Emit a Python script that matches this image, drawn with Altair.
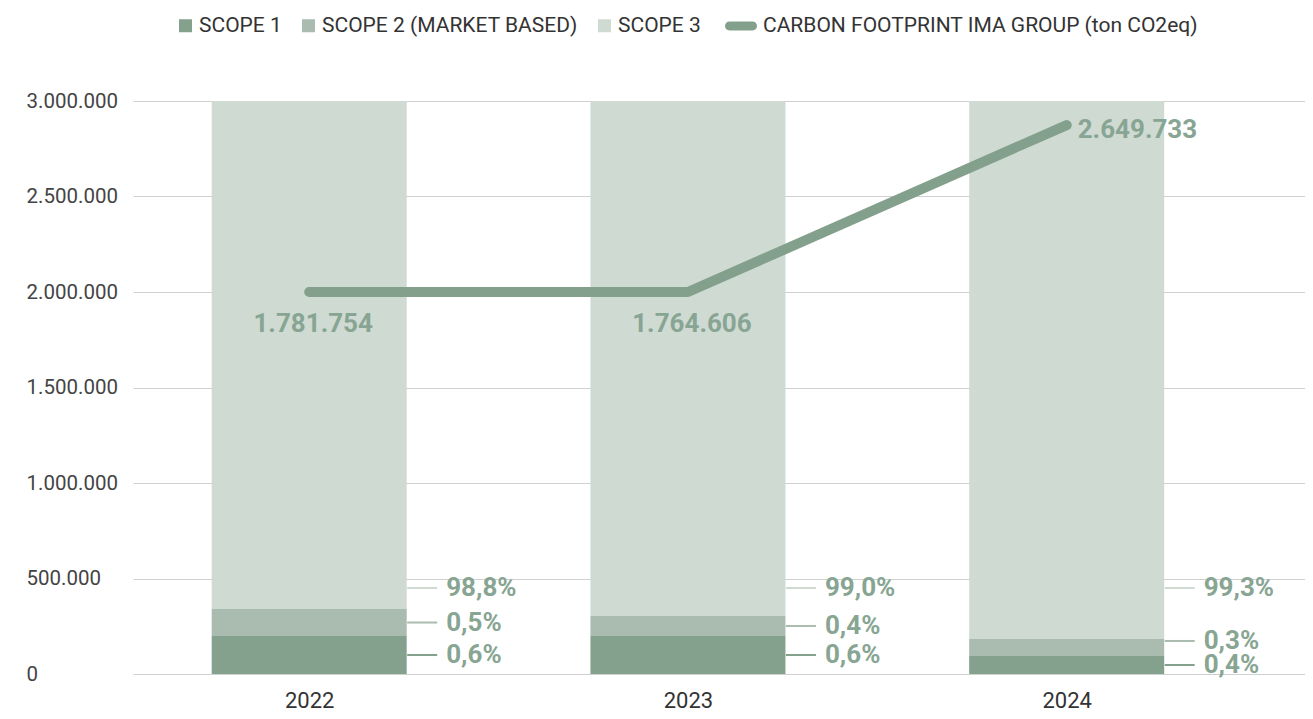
import altair as alt
import pandas as pd

# ---------------- data ----------------
years = [2022, 2023, 2024]
series_names = ["SCOPE 1", "SCOPE 2 (MARKET BASED)", "SCOPE 3"]
scope1 = [199000, 199000, 94000]
scope2 = [141000, 105000, 89000]
scope3 = [2660000, 2696000, 2817000]
scope1_pct = ["0,6%", "0,6%", "0,4%"]
scope2_pct = ["0,5%", "0,4%", "0,3%"]
scope3_pct = ["98,8%", "99,0%", "99,3%"]
line_name = "CARBON FOOTPRINT IMA GROUP (ton CO2eq)"
footprint_line = [2000000, 2000000, 2874000]
footprint_labels = ["1.781.754", "1.764.606", "2.649.733"]
y_ticks = [0, 500000, 1000000, 1500000, 2000000, 2500000, 3000000]

# ---------------- styles ----------------
C1, C2, C3 = "#83a18d", "#a9bcaf", "#cfdad2"
LINE_C = "#83a08c"
LABEL_C = "#87a592"
FONT = "Roboto"

# ---------------- tables ----------------
bar_rows = []
for i, y in enumerate(years):
    for k, (name, vals) in enumerate(zip(series_names, [scope1, scope2, scope3])):
        bar_rows.append({"year": y, "series": name, "value": vals[i], "ord": k})
bars_df = pd.DataFrame(bar_rows)

lab_rows = []
min_gap = 126000
s3_anchor = 450000
for i, y in enumerate(years):
    p1 = scope1[i] / 2
    p2 = max(scope1[i] + scope2[i] / 2, p1 + min_gap)
    p3 = s3_anchor
    lab_rows += [
        {"year": y, "series": series_names[0], "pos": p1, "txt": scope1_pct[i]},
        {"year": y, "series": series_names[1], "pos": p2, "txt": scope2_pct[i]},
        {"year": y, "series": series_names[2], "pos": p3, "txt": scope3_pct[i]},
    ]
labels_df = pd.DataFrame(lab_rows)

line_df = pd.DataFrame({"year": years, "value": footprint_line,
                        "txt": footprint_labels, "lname": line_name})

# ---------------- scales & axes ----------------
xscale = alt.Scale(domain=[2021.548, 2024.616], nice=False, zero=False)
yscale = alt.Scale(domain=[0, 3000000], nice=False)
cscale = alt.Scale(domain=series_names, range=[C1, C2, C3])

x_axis = alt.Axis(values=years, format="d", title=None, grid=False,
                  domain=False, ticks=False, tickSize=0,
                  labelFontSize=22, labelColor="#333",
                  labelPadding=16, labelFont=FONT)
y_axis = alt.Axis(values=y_ticks, format=",d", title=None,
                  labelAlign="left", labelPadding=107, tickSize=0,
                  ticks=False, domain=False, grid=True, gridColor="#d0d0d0",
                  gridWidth=1, labelFontSize=20.5, labelColor="#444",
                  labelFont=FONT)

def X(field="year:Q"):
    return alt.X(field, scale=xscale, axis=x_axis)

def Y(field):
    return alt.Y(field, scale=yscale, axis=y_axis)

bars = alt.Chart(bars_df).mark_bar(size=195).encode(
    x=X(),
    y=alt.Y("value:Q", stack="zero", scale=yscale, axis=y_axis),
    color=alt.Color("series:N", scale=cscale,
                    legend=alt.Legend(orient="none", legendX=42, legendY=-86,
                                      direction="horizontal", title=None,
                                      symbolType="square", symbolSize=169,
                                      symbolStrokeWidth=0, labelOffset=3,
                                      columnPadding=16, labelFontSize=21,
                                      labelLimit=0,
                                      labelColor="#333", labelFont=FONT)),
    order=alt.Order("ord:Q"),
)

leaders = alt.Chart(labels_df).mark_rule(strokeWidth=2, xOffset=98, x2Offset=128).encode(
    x=X(),
    x2="year:Q",
    y=Y("pos:Q"),
    color=alt.Color("series:N", scale=cscale, legend=None),
)

pct_text = alt.Chart(labels_df).mark_text(
    align="left", baseline="middle", dx=137, fontSize=26, fontWeight="bold",
    font=FONT, color=LABEL_C,
).encode(
    x=X(),
    y=Y("pos:Q"),
    text="txt:N",
)

PILL = "M-0.72,-0.28 L0.72,-0.28 A0.28,0.28 0 0 1 0.72,0.28 L-0.72,0.28 A0.28,0.28 0 0 1 -0.72,-0.28 Z"

line = alt.Chart(line_df).mark_line(strokeWidth=10, strokeCap="round",
                                     strokeJoin="round").encode(
    x=X(),
    y=Y("value:Q"),
    stroke=alt.Stroke("lname:N", scale=alt.Scale(domain=[line_name], range=[LINE_C]),
                      legend=alt.Legend(orient="none", legendX=592, legendY=-91,
                                        direction="horizontal", title=None,
                                        symbolType=PILL, symbolSize=1024,
                                        symbolFillColor=LINE_C,
                                        symbolStrokeWidth=0, labelOffset=6,
                                        labelLimit=0,
                                        labelFontSize=21, labelColor="#333",
                                        labelFont=FONT)),
)

line_lab_below = alt.Chart(line_df).transform_filter(
    alt.datum.year < 2024
).mark_text(align="center", baseline="middle", dx=4, dy=32, fontSize=26,
            fontWeight="bold", font=FONT, color=LABEL_C).encode(
    x=X(),
    y=Y("value:Q"),
    text="txt:N",
)

line_lab_right = alt.Chart(line_df).transform_filter(
    alt.datum.year == 2024
).mark_text(align="left", baseline="middle", dx=11, dy=5, fontSize=26,
            fontWeight="bold", font=FONT, color=LABEL_C).encode(
    x=X(),
    y=Y("value:Q"),
    text="txt:N",
)

chart = alt.layer(bars, leaders, pct_text, line, line_lab_below, line_lab_right).properties(
    width=1172, height=573,
    padding={"left": 125, "top": 93, "right": 0, "bottom": 37},
    autosize=alt.AutoSizeParams(type="none"),
    background="white",
).configure(
    font=FONT,
    locale={"number": {"decimal": ",", "thousands": ".", "grouping": [3],
                       "currency": ["", "\u20ac"]}},
).configure_view(stroke=None)

chart.save("out.html", embed_options={"renderer": "svg", "actions": False})
